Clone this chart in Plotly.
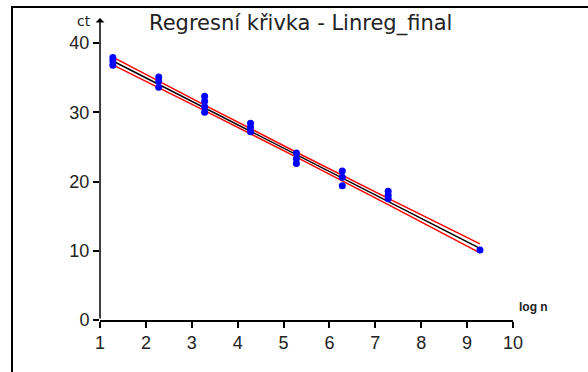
import plotly.graph_objects as go

# ---- data ----
cluster_x = [1.28, 2.28, 3.28, 4.28, 5.28, 6.28, 7.28, 9.28]
cluster_y = [
    [37.9, 37.4, 36.8],
    [35.1, 34.5, 33.6],
    [32.3, 31.6, 30.8, 30.0],
    [28.4, 27.8, 27.2],
    [24.1, 23.3, 22.6],
    [21.5, 20.6, 19.4],
    [18.6, 18.0, 17.5],
    [10.1],
]
fit_x = [1.28, 9.28]
fit_y = [37.4, 10.35]
band_x = [1.28, 3.28, 5.28, 7.28, 9.28]
band_upper = [37.95, 31.04, 24.23, 17.57, 11.0]
band_lower = [36.85, 30.24, 23.53, 16.67, 9.7]
x_ticks = [1, 2, 3, 4, 5, 6, 7, 8, 9, 10]
y_ticks = [0, 10, 20, 30, 40]

pts_x = [x for x, ys in zip(cluster_x, cluster_y) for _ in ys]
pts_y = [y for ys in cluster_y for y in ys]

FONT = "Liberation Sans, Arial, sans-serif"
TFONT = "DejaVu Sans, Verdana, sans-serif"
W, H = 588, 372
L, R, T, B = 100, 75, 43, 52
PW, PH = W - L - R, H - T - B

def px_x(p):
    return (p - L) / PW

def px_y(p):
    return (H - B - p) / PH

fig = go.Figure()
fig.add_trace(go.Scatter(x=band_x, y=band_upper, mode="lines", line=dict(color="#ff0000", width=1.5, shape="spline"), hoverinfo="skip"))
fig.add_trace(go.Scatter(x=band_x, y=band_lower, mode="lines", line=dict(color="#ff0000", width=1.5, shape="spline"), hoverinfo="skip"))
fig.add_trace(go.Scatter(x=fit_x, y=fit_y, mode="lines", line=dict(color="#000000", width=1.5)))
fig.add_trace(go.Scatter(x=pts_x, y=pts_y, mode="markers", marker=dict(color="#0000ff", size=7, line=dict(width=0))))

fig.update_layout(
    width=W, height=H,
    margin=dict(l=L, r=R, t=T, b=B, pad=0),
    paper_bgcolor="white", plot_bgcolor="white",
    showlegend=False,
    font=dict(family=FONT, color="#222222", size=17),
    xaxis=dict(range=[1, 10], tickvals=x_ticks, ticktext=[str(v) for v in x_ticks],
               showgrid=False, zeroline=False, showline=True, linecolor="black", linewidth=1.5,
               ticks="outside", ticklen=6, tickwidth=1.5, tickcolor="black",
               tickfont=dict(family=FONT, size=18, color="#222222"), fixedrange=True),
    yaxis=dict(range=[0, 40], tickvals=y_ticks, ticktext=[str(v) for v in y_ticks],
               showgrid=False, zeroline=False, showline=False,
               ticks="outside", ticklen=6, tickwidth=1.5, tickcolor="black",
               tickfont=dict(family=FONT, size=18, color="#222222"), fixedrange=True),
    shapes=[
        dict(type="rect", xref="paper", yref="paper",
             x0=px_x(12), x1=1.6, y0=-0.6, y1=px_y(7),
             line=dict(color="black", width=2), fillcolor="rgba(0,0,0,0)", layer="below"),
    ],
    annotations=[
        dict(text="Regresní křivka - Linreg_final", xref="paper", yref="paper",
             x=px_x(300), y=px_y(23), xanchor="center", yanchor="middle",
             showarrow=False, font=dict(family=TFONT, size=21, color="#222222")),
        dict(text="ct", xref="paper", yref="paper", x=px_x(84), y=px_y(21),
             xanchor="center", yanchor="middle", showarrow=False,
             font=dict(family=TFONT, size=14, color="#222222")),
        dict(text="<b>log n</b>", xref="paper", yref="paper", x=px_x(533), y=px_y(307),
             xanchor="center", yanchor="middle", showarrow=False,
             font=dict(family=FONT, size=12, color="#222222")),
        # y axis with arrow
        dict(text="", x=1, y=43.6, xref="x", yref="y", ax=1, ay=0, axref="x", ayref="y",
             showarrow=True, arrowhead=1, arrowsize=1, arrowwidth=1.5, arrowcolor="black", standoff=0),
        # x axis arrow
        dict(text="", x=1 + (543 - L) / (PW / 9), y=0, xref="x", yref="y",
             ax=1 + (517 - L) / (PW / 9), ay=0, axref="x", ayref="y",
             showarrow=True, arrowhead=2, arrowsize=1, arrowwidth=1.5, arrowcolor="black", standoff=0),
    ],
)

fig.write_html("out.html")
